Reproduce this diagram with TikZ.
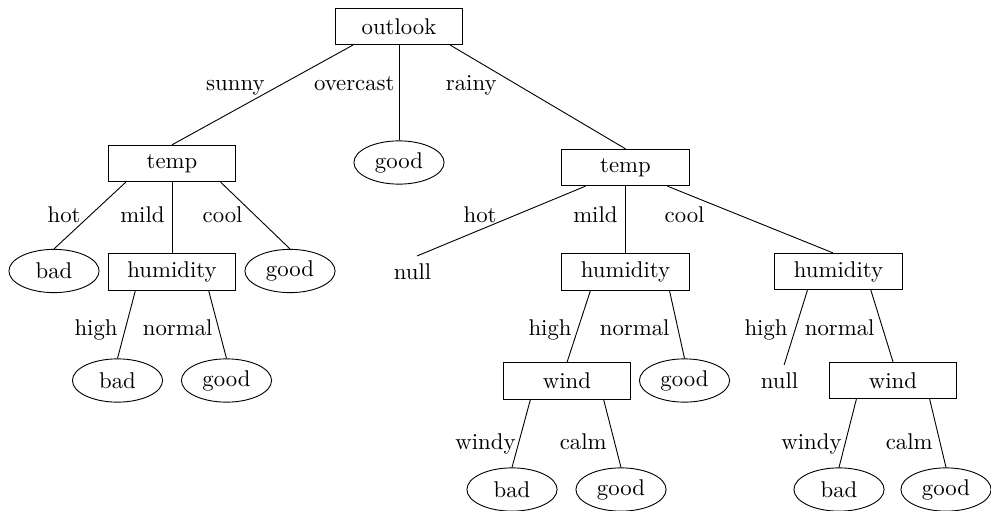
\documentclass[tikz,border=0pt]{standalone}
\usepackage{tikz}
\usetikzlibrary{shapes.geometric}

\begin{document}
\begin{tikzpicture}[
    x=0.4392pt, y=-0.4392pt,
    attr/.style={rectangle, draw, minimum width=56pt, minimum height=16pt, align=center},
    leaf/.style={ellipse, draw, inner sep=1pt, minimum width=39.6pt, minimum height=19pt},
    nul/.style={rectangle},
    lbl/.style={inner sep=0pt, anchor=base east}
]
\useasboundingbox (0,0) rectangle (991,510);

\node[attr] (outlook) at (399,26.5) {outlook};
\node[attr] (temp1) at (172,163.5) {temp};
\node[leaf] (good0) at (399,162.5) {good};
\node[attr] (temp2) at (625.5,167.5) {temp};
\node[leaf] (bad1) at (54,271) {bad};
\node[attr] (hum1) at (172,272) {humidity};
\node[leaf] (good1) at (290,271) {good};
\node[nul] (null1) at (412.5,272) {null};
\node[attr] (hum2) at (625.5,272) {humidity};
\node[attr] (hum3) at (838.5,271.5) {humidity};
\node[leaf] (bad2) at (117.5,380.5) {bad};
\node[leaf] (good2) at (226.5,380.5) {good};
\node[attr] (wind1) at (567,381) {wind};
\node[leaf] (good3) at (684.5,380.5) {good};
\node[nul] (null2) at (779.5,381) {null};
\node[attr] (wind2) at (893,380.5) {wind};
\node[leaf] (bad4) at (512,489.5) {bad};
\node[leaf] (good4) at (621,489.5) {good};
\node[leaf] (bad5) at (839,489.5) {bad};
\node[leaf] (good5) at (946,489.5) {good};

\draw (outlook.-158) -- (temp1.north);
\draw (outlook.south) -- (good0.north);
\draw (outlook.-20) -- (temp2.north);
\draw (temp1.-158) -- (bad1.north);
\draw (temp1.south) -- (hum1.north);
\draw (temp1.-21) -- (good1.north);
\draw (temp2.-155) -- (null1.74);
\draw (temp2.south) -- (hum2.north);
\draw (temp2.-24) -- (hum3.107);
\draw (hum1.-153) -- (bad2.north);
\draw (hum1.-27) -- (good2.north);
\draw (hum2.-152) -- (wind1.north);
\draw (hum2.-23) -- (good3.north);
\draw (hum3.-149) -- (null2.74);
\draw (hum3.-30) -- (wind2.north);
\draw (wind1.-153) -- (bad4.north);
\draw (wind1.-27) -- (good4.north);
\draw (wind2.-153) -- (bad5.north);
\draw (wind2.-27) -- (good5.north);

\node[lbl] (sunny) at (265,91) {sunny};
\node[lbl] (overcast) at (395,91) {overcast};
\node[lbl] (rainy) at (497,91) {rainy};
\node[lbl] (hot1) at (81,222) {hot};
\node[lbl] (mild1) at (165,222) {mild};
\node[lbl] (cool1) at (243,222) {cool};
\node[lbl] (hot2) at (497,222) {hot};
\node[lbl] (mild2) at (618,222) {mild};
\node[lbl] (cool2) at (705,222) {cool};
\node[lbl] (high1) at (118,335) {high};
\node[lbl] (normal1) at (213,335) {normal};
\node[lbl] (high2) at (572,335) {high};
\node[lbl] (normal2) at (670,335) {normal};
\node[lbl] (high3) at (788,335) {high};
\node[lbl] (normal3) at (875,335) {normal};
\node[lbl] (windy1) at (516,449) {windy};
\node[lbl] (calm1) at (607,449) {calm};
\node[lbl] (windy2) at (842,449) {windy};
\node[lbl] (calm2) at (933,449) {calm};

\end{tikzpicture}
\end{document}
